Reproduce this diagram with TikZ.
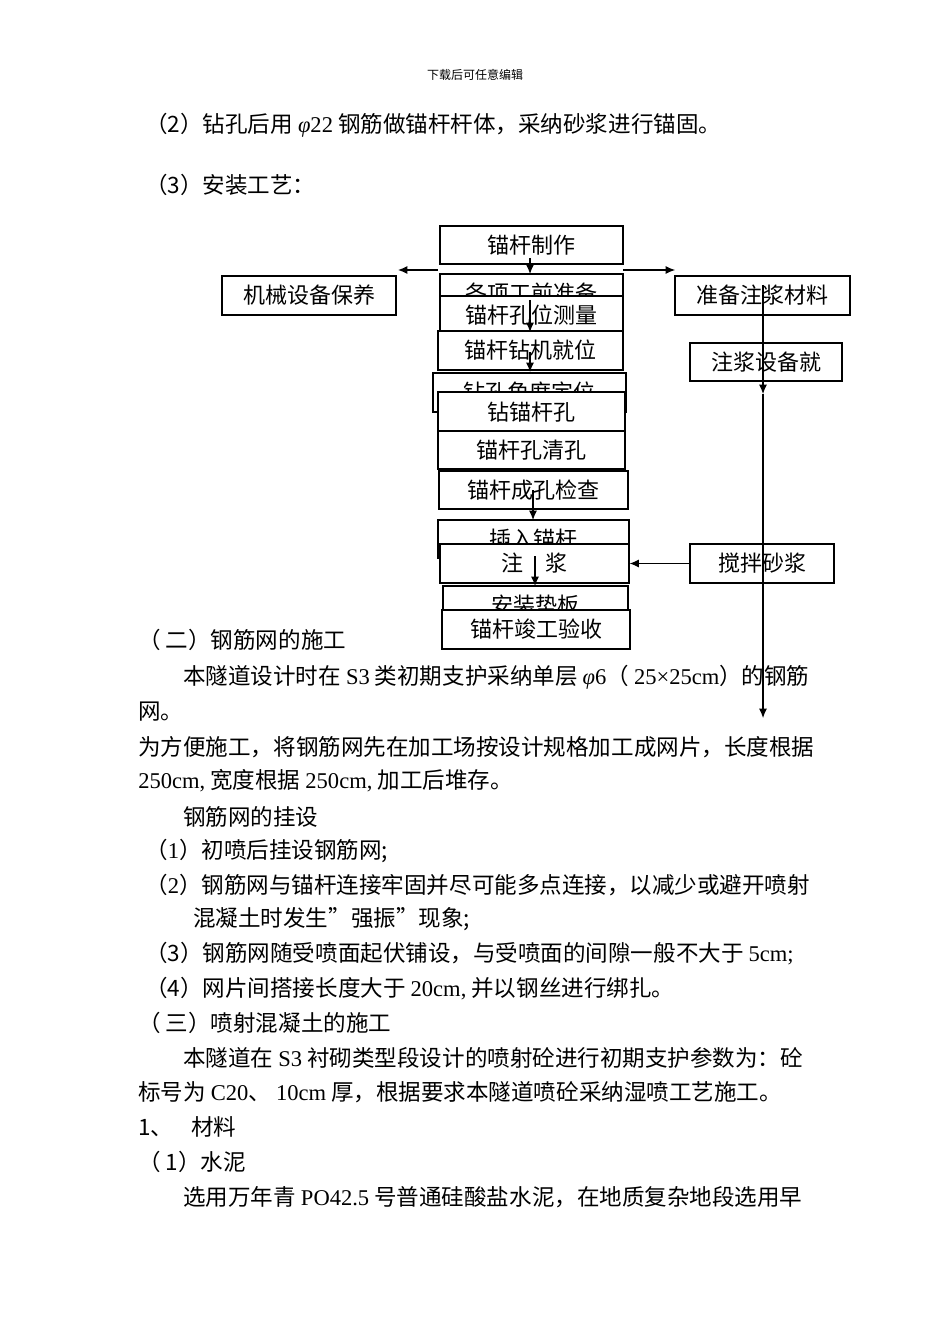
\documentclass[tikz,border=0pt]{standalone}
\usepackage{fontspec}
\setmainfont{Noto Sans CJK SC}
\newfontfamily\latf{Liberation Serif}
\newcommand{\lt}[1]{{\latf #1}}
\usetikzlibrary{arrows.meta}
\begin{document}
\begin{tikzpicture}[x=0.75pt,y=-0.75pt,
  bx/.style={draw,fill=white,line width=0.9pt,inner sep=0pt,font=\fontsize{16.5}{18}\selectfont},
  arr/.style={-{Latex[length=7pt,width=6pt]},line width=0.8pt},
  tx/.style={anchor=west,inner sep=0pt,font=\fontsize{16.9}{20}\selectfont}]
\useasboundingbox (0,0) rectangle (950,1344);
\node[font=\fontsize{9}{10}\selectfont] (hd) at (475,75) {下载后可任意编辑};
\node[tx] (p1) at (145,125) {（2）钻孔后用 \lt{\textit{φ}22} 钢筋做锚杆杆体，采纳砂浆进行锚固。};
\node[tx] (p2) at (145,185) {（3）安装工艺：};
% boxes
\newcommand{\bxn}[6]{\node[bx,minimum width=#4*0.75pt,minimum height=#5*0.75pt] (#1) at (#2,#3) {#6};}
\bxn{b1}{531.5}{245}{183}{38}{锚杆制作}
\bxn{b2}{531.5}{293}{183}{38}{各项工前准备}
\bxn{b3}{531.5}{315}{183}{38}{锚杆孔位测量}
\bxn{b4}{530.5}{350.5}{185}{39}{锚杆钻机就位}
\bxn{b5}{529.5}{392.5}{193}{39}{钻孔角度定位}
\bxn{b6}{531.5}{412}{187}{40}{钻锚杆孔}
\bxn{b7}{531.5}{450}{187}{38}{锚杆孔清孔}
\bxn{b8}{533.5}{490}{189}{38}{锚杆成孔检查}
\bxn{b9}{533.5}{539}{191}{38}{插入锚杆}
\bxn{b10}{534.5}{563.5}{189}{39}{注\hspace{1em}浆}
\bxn{b11}{535.5}{605}{185}{38}{安装垫板}
\bxn{b12}{536}{629.5}{188}{39}{锚杆竣工验收}
\bxn{L}{309}{295.5}{174}{39}{机械设备保养}
\bxn{R1}{762.5}{295.5}{175}{39}{准备注浆材料}
\bxn{R2}{766}{362}{152}{38}{注浆设备就}
\bxn{R3}{762}{563.5}{144}{39}{搅拌砂浆}
% arrows
\coordinate (a1s) at (530,258); \coordinate (a1e) at (530,274);
\coordinate (a2s) at (530,300); \coordinate (a2e) at (530,332);
\coordinate (a3s) at (530,352); \coordinate (a3e) at (530,372);
\coordinate (a4s) at (533,490); \coordinate (a4e) at (533,520);
\coordinate (a5s) at (535,556); \coordinate (a5e) at (535,586);
\coordinate (ls) at (438,270); \coordinate (le) at (398,270);
\coordinate (rs) at (623,270); \coordinate (re) at (675,270);
\coordinate (vs) at (763,285); \coordinate (vm) at (763,394); \coordinate (ve) at (763,718);
\draw[arr] (a1s) -- (a1e);
\draw[arr] (a2s) -- (a2e);
\draw[arr] (a3s) -- (a3e);
\draw[arr] (a4s) -- (a4e);
\draw[arr] (a5s) -- (a5e);
\draw[arr] (ls) -- (le);
\draw[arr] (rs) -- (re);
\draw[arr] (vs) -- (vm);
\draw[arr] (vm) -- (ve);
\draw[arr] (R3.west) -- (b10.east);
% text
\node[tx] (t1) at (138,640) {（ 二）钢筋网的施工};
\node[tx] (t2) at (183,677) {本隧道设计时在 \lt{S3} 类初期支护采纳单层 \lt{\textit{φ}6}（ \lt{25×25cm}）的钢筋};
\node[tx] (t3) at (138,712) {网。};
\node[tx] (t4) at (138,747) {为方便施工，将钢筋网先在加工场按设计规格加工成网片，长度根据};
\node[tx] (t5) at (138,781) {\lt{250cm,} 宽度根据 \lt{250cm,} 加工后堆存。};
\node[tx] (t6) at (183,817) {钢筋网的挂设};
\node[tx] (t7) at (145,851) {（\lt{1}）初喷后挂设钢筋网;};
\node[tx] (t8) at (145,885) {（\lt{2}）钢筋网与锚杆连接牢固并尽可能多点连接，以减少或避开喷射};
\node[tx] (t9) at (193,919) {混凝土时发生”强振”现象;};
\node[tx] (t10) at (145,954) {（3）钢筋网随受喷面起伏铺设，与受喷面的间隙一般不大于 \lt{5cm;}};
\node[tx] (t11) at (145,989) {（4）网片间搭接长度大于 \lt{20cm,} 并以钢丝进行绑扎。};
\node[tx] (t12) at (138,1023) {（ 三）喷射混凝土的施工};
\node[tx] (t13) at (183,1058) {本隧道在 \lt{S3} 衬砌类型段设计的喷射砼进行初期支护参数为：砼};
\node[tx] (t14) at (138,1092) {标号为 \lt{C20}、 \lt{10cm} 厚，根据要求本隧道喷砼采纳湿喷工艺施工。};
\node[tx] (t15) at (138,1127) {1、\hspace{0.8em}材料};
\node[tx] (t16) at (138,1162) {（ 1）水泥};
\node[tx] (t17) at (183,1197) {选用万年青 \lt{PO42.5} 号普通硅酸盐水泥，在地质复杂地段选用早};
\end{tikzpicture}
\end{document}
